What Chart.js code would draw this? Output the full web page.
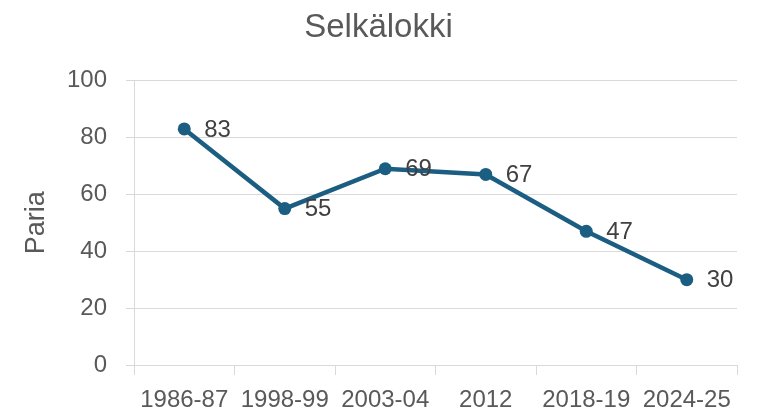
<!DOCTYPE html>
<html>
<head>
<meta charset="utf-8">
<script src="https://cdn.jsdelivr.net/npm/chart.js@4"></script>
<style>
  html, body { margin: 0; padding: 0; background: #fff; }
  #wrap { width: 758px; height: 411px; }
</style>
</head>
<body>
<div id="wrap"><canvas id="chart"></canvas></div>
<script>
const categories = ["1986-87", "1998-99", "2003-04", "2012", "2018-19", "2024-25"];
const pairs = [83, 55, 69, 67, 47, 30];
const yTicks = [0, 20, 40, 60, 80, 100];

const textColor = "#595959";
const lineColor = "#1b5e82";
const fontFamily = "'Liberation Sans', Arial, sans-serif";

// draws the value to the right of each point
const pointLabels = {
  id: "pointLabels",
  afterDatasetsDraw(chart) {
    const ctx = chart.ctx;
    const meta = chart.getDatasetMeta(0);
    ctx.save();
    ctx.font = "24px " + fontFamily;
    ctx.fillStyle = "#404040";
    ctx.textAlign = "left";
    ctx.textBaseline = "middle";
    meta.data.forEach((pt, i) => {
      ctx.fillText(String(pairs[i]), pt.x + 20, pt.y + 1);
    });
    ctx.restore();
  }
};

new Chart(document.getElementById("chart"), {
  type: "line",
  data: {
    labels: categories,
    datasets: [{
      label: "Selkälokki",
      data: pairs,
      borderColor: lineColor,
      backgroundColor: lineColor,
      borderWidth: 4.5,
      pointRadius: 6.5,
      pointBorderWidth: 0,
      pointHoverRadius: 6.5,
      tension: 0
    }]
  },
  options: {
    responsive: true,
    maintainAspectRatio: false,
    animation: false,
    layout: { padding: { left: 20, right: 21, top: 8, bottom: 0 } },
    plugins: {
      legend: { display: false },
      tooltip: { enabled: false },
      title: {
        display: true,
        text: "Selkälokki",
        color: textColor,
        font: { family: fontFamily, size: 33, weight: "normal" },
        padding: { top: 0, bottom: 33 }
      }
    },
    scales: {
      x: {
        offset: true,
        afterFit(axis) { axis.height = 46; },
        grid: {
          offset: true,
          drawOnChartArea: false,
          drawTicks: true,
          tickLength: 10,
          color: "#d9d9d9",
          lineWidth: 1
        },
        border: { color: "#d9d9d9", width: 1 },
        ticks: {
          color: textColor,
          autoSkip: false,
          maxRotation: 0,
          minRotation: 0,
          padding: 11,
          font: { family: fontFamily, size: 24 }
        }
      },
      y: {
        min: 0,
        max: 100,
        afterBuildTicks(axis) {
          axis.ticks = yTicks.map(v => ({ value: v }));
        },
        afterFit(axis) { axis.width = 114; },
        grid: {
          color: "#d9d9d9",
          lineWidth: 1,
          drawTicks: true,
          tickLength: 8
        },
        border: { color: "#d9d9d9", width: 1 },
        ticks: {
          color: textColor,
          padding: 19,
          font: { family: fontFamily, size: 24 }
        },
        title: {
          display: true,
          text: "Paria",
          color: textColor,
          font: { family: fontFamily, size: 27 },
          padding: { top: 0, bottom: 0 }
        }
      }
    }
  },
  plugins: [pointLabels]
});
</script>
</body>
</html>
